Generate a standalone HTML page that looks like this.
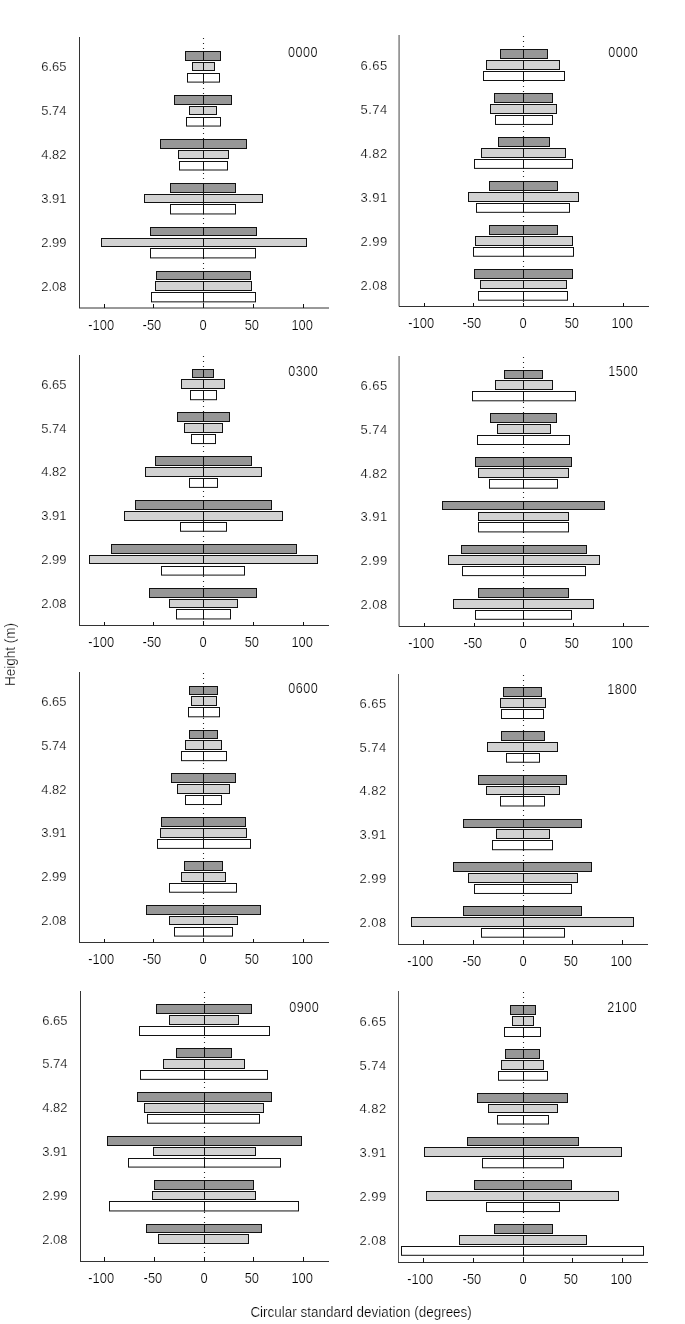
<!DOCTYPE html>
<html><head><meta charset="utf-8"><style>
html,body{margin:0;padding:0;background:#fff;}
body{width:685px;height:1324px;overflow:hidden;position:relative;}
svg{position:absolute;left:0;top:0;will-change:transform;}
.t{font-family:"Liberation Sans",sans-serif;font-size:13px;fill:#000;stroke:#fff;stroke-width:0.2px;}
.xt{font-family:"Liberation Sans",sans-serif;font-size:12.9px;fill:#000;stroke:#fff;stroke-width:0.2px;}
.pl{font-family:"Liberation Sans",sans-serif;font-size:12.6px;letter-spacing:0.5px;fill:#000;stroke:#fff;stroke-width:0.2px;}
.ttl{font-family:"Liberation Sans",sans-serif;font-size:13.4px;fill:#000;stroke:#fff;stroke-width:0.2px;}
</style></head><body>
<svg width="685" height="1324" viewBox="0 0 685 1324" shape-rendering="auto">
<line x1="203.5" y1="38" x2="203.5" y2="308.0" stroke="#222" stroke-width="1.1" stroke-dasharray="1 4"/>
<rect x="185.5" y="51.5" width="18.0" height="9.0" fill="#979797" stroke="#111"/>
<rect x="203.5" y="51.5" width="17.0" height="9.0" fill="#979797" stroke="#111"/>
<rect x="192.5" y="62.5" width="11.0" height="8.0" fill="#d2d2d2" stroke="#111"/>
<rect x="203.5" y="62.5" width="11.0" height="8.0" fill="#d2d2d2" stroke="#111"/>
<rect x="187.5" y="73.5" width="16.0" height="8.6" fill="#ffffff" stroke="#111"/>
<rect x="203.5" y="73.5" width="16.0" height="8.6" fill="#ffffff" stroke="#111"/>
<text x="66.5" y="71.1" text-anchor="end" class="t">6.65</text>
<rect x="174.5" y="95.5" width="29.0" height="9.0" fill="#979797" stroke="#111"/>
<rect x="203.5" y="95.5" width="28.0" height="9.0" fill="#979797" stroke="#111"/>
<rect x="189.5" y="106.5" width="14.0" height="8.0" fill="#d2d2d2" stroke="#111"/>
<rect x="203.5" y="106.5" width="13.0" height="8.0" fill="#d2d2d2" stroke="#111"/>
<rect x="186.5" y="117.5" width="17.0" height="8.55" fill="#ffffff" stroke="#111"/>
<rect x="203.5" y="117.5" width="17.0" height="8.55" fill="#ffffff" stroke="#111"/>
<text x="66.5" y="115.0" text-anchor="end" class="t">5.74</text>
<rect x="160.5" y="139.5" width="43.0" height="9.0" fill="#979797" stroke="#111"/>
<rect x="203.5" y="139.5" width="43.0" height="9.0" fill="#979797" stroke="#111"/>
<rect x="178.5" y="150.5" width="25.0" height="8.0" fill="#d2d2d2" stroke="#111"/>
<rect x="203.5" y="150.5" width="25.0" height="8.0" fill="#d2d2d2" stroke="#111"/>
<rect x="179.5" y="161.5" width="24.0" height="8.5" fill="#ffffff" stroke="#111"/>
<rect x="203.5" y="161.5" width="24.0" height="8.5" fill="#ffffff" stroke="#111"/>
<text x="66.5" y="159.0" text-anchor="end" class="t">4.82</text>
<rect x="170.5" y="183.5" width="33.0" height="9.0" fill="#979797" stroke="#111"/>
<rect x="203.5" y="183.5" width="32.0" height="9.0" fill="#979797" stroke="#111"/>
<rect x="144.5" y="194.5" width="59.0" height="8.0" fill="#d2d2d2" stroke="#111"/>
<rect x="203.5" y="194.5" width="59.0" height="8.0" fill="#d2d2d2" stroke="#111"/>
<rect x="170.5" y="204.5" width="33.0" height="9.45" fill="#ffffff" stroke="#111"/>
<rect x="203.5" y="204.5" width="32.0" height="9.45" fill="#ffffff" stroke="#111"/>
<text x="66.5" y="203.0" text-anchor="end" class="t">3.91</text>
<rect x="150.5" y="227.5" width="53.0" height="8.0" fill="#979797" stroke="#111"/>
<rect x="203.5" y="227.5" width="53.0" height="8.0" fill="#979797" stroke="#111"/>
<rect x="101.5" y="238.5" width="102.0" height="8.0" fill="#d2d2d2" stroke="#111"/>
<rect x="203.5" y="238.5" width="103.0" height="8.0" fill="#d2d2d2" stroke="#111"/>
<rect x="150.5" y="248.5" width="53.0" height="9.4" fill="#ffffff" stroke="#111"/>
<rect x="203.5" y="248.5" width="52.0" height="9.4" fill="#ffffff" stroke="#111"/>
<text x="66.5" y="246.9" text-anchor="end" class="t">2.99</text>
<rect x="156.5" y="271.5" width="47.0" height="8.0" fill="#979797" stroke="#111"/>
<rect x="203.5" y="271.5" width="47.0" height="8.0" fill="#979797" stroke="#111"/>
<rect x="155.5" y="281.5" width="48.0" height="9.0" fill="#d2d2d2" stroke="#111"/>
<rect x="203.5" y="281.5" width="48.0" height="9.0" fill="#d2d2d2" stroke="#111"/>
<rect x="151.5" y="292.5" width="52.0" height="9.35" fill="#ffffff" stroke="#111"/>
<rect x="203.5" y="292.5" width="52.0" height="9.35" fill="#ffffff" stroke="#111"/>
<text x="66.5" y="290.9" text-anchor="end" class="t">2.08</text>
<line x1="79.5" y1="37" x2="79.5" y2="308.0" stroke="#333" stroke-width="1"/>
<line x1="79" y1="308.0" x2="329" y2="308.0" stroke="#333" stroke-width="1"/>
<line x1="104.5" y1="304" x2="104.5" y2="308.0" stroke="#111" stroke-width="1"/>
<text transform="translate(101.20,329.5) scale(1,1.08)" text-anchor="middle" class="xt">-100</text>
<line x1="153.5" y1="304" x2="153.5" y2="308.0" stroke="#111" stroke-width="1"/>
<text transform="translate(151.90,329.5) scale(1,1.08)" text-anchor="middle" class="xt">-50</text>
<line x1="203.5" y1="304" x2="203.5" y2="308.0" stroke="#111" stroke-width="1"/>
<text transform="translate(203.00,329.5) scale(1,1.08)" text-anchor="middle" class="xt">0</text>
<line x1="253.5" y1="304" x2="253.5" y2="308.0" stroke="#111" stroke-width="1"/>
<text transform="translate(251.80,329.5) scale(1,1.08)" text-anchor="middle" class="xt">50</text>
<line x1="303.5" y1="304" x2="303.5" y2="308.0" stroke="#111" stroke-width="1"/>
<text transform="translate(302.20,329.5) scale(1,1.08)" text-anchor="middle" class="xt">100</text>
<text transform="translate(318.1,57.4) scale(1,1.1)" text-anchor="end" class="pl">0000</text>
<line x1="203.5" y1="356" x2="203.5" y2="625.5" stroke="#222" stroke-width="1.1" stroke-dasharray="1 4"/>
<rect x="192.5" y="369.5" width="11.0" height="8.0" fill="#979797" stroke="#111"/>
<rect x="203.5" y="369.5" width="10.0" height="8.0" fill="#979797" stroke="#111"/>
<rect x="181.5" y="379.5" width="22.0" height="9.0" fill="#d2d2d2" stroke="#111"/>
<rect x="203.5" y="379.5" width="21.0" height="9.0" fill="#d2d2d2" stroke="#111"/>
<rect x="190.5" y="390.5" width="13.0" height="9.2" fill="#ffffff" stroke="#111"/>
<rect x="203.5" y="390.5" width="13.0" height="9.2" fill="#ffffff" stroke="#111"/>
<text x="66.5" y="388.7" text-anchor="end" class="t">6.65</text>
<rect x="177.5" y="412.5" width="26.0" height="9.0" fill="#979797" stroke="#111"/>
<rect x="203.5" y="412.5" width="26.0" height="9.0" fill="#979797" stroke="#111"/>
<rect x="184.5" y="423.5" width="19.0" height="9.0" fill="#d2d2d2" stroke="#111"/>
<rect x="203.5" y="423.5" width="19.0" height="9.0" fill="#d2d2d2" stroke="#111"/>
<rect x="191.5" y="434.5" width="12.0" height="9.05" fill="#ffffff" stroke="#111"/>
<rect x="203.5" y="434.5" width="12.0" height="9.05" fill="#ffffff" stroke="#111"/>
<text x="66.5" y="432.6" text-anchor="end" class="t">5.74</text>
<rect x="155.5" y="456.5" width="48.0" height="9.0" fill="#979797" stroke="#111"/>
<rect x="203.5" y="456.5" width="48.0" height="9.0" fill="#979797" stroke="#111"/>
<rect x="145.5" y="467.5" width="58.0" height="9.0" fill="#d2d2d2" stroke="#111"/>
<rect x="203.5" y="467.5" width="58.0" height="9.0" fill="#d2d2d2" stroke="#111"/>
<rect x="189.5" y="478.5" width="14.0" height="8.9" fill="#ffffff" stroke="#111"/>
<rect x="203.5" y="478.5" width="14.0" height="8.9" fill="#ffffff" stroke="#111"/>
<text x="66.5" y="476.4" text-anchor="end" class="t">4.82</text>
<rect x="135.5" y="500.5" width="68.0" height="9.0" fill="#979797" stroke="#111"/>
<rect x="203.5" y="500.5" width="68.0" height="9.0" fill="#979797" stroke="#111"/>
<rect x="124.5" y="511.5" width="79.0" height="9.0" fill="#d2d2d2" stroke="#111"/>
<rect x="203.5" y="511.5" width="79.0" height="9.0" fill="#d2d2d2" stroke="#111"/>
<rect x="180.5" y="522.5" width="23.0" height="8.75" fill="#ffffff" stroke="#111"/>
<rect x="203.5" y="522.5" width="23.0" height="8.75" fill="#ffffff" stroke="#111"/>
<text x="66.5" y="520.2" text-anchor="end" class="t">3.91</text>
<rect x="111.5" y="544.5" width="92.0" height="9.0" fill="#979797" stroke="#111"/>
<rect x="203.5" y="544.5" width="93.0" height="9.0" fill="#979797" stroke="#111"/>
<rect x="89.5" y="555.5" width="114.0" height="8.0" fill="#d2d2d2" stroke="#111"/>
<rect x="203.5" y="555.5" width="114.0" height="8.0" fill="#d2d2d2" stroke="#111"/>
<rect x="161.5" y="566.5" width="42.0" height="8.6" fill="#ffffff" stroke="#111"/>
<rect x="203.5" y="566.5" width="41.0" height="8.6" fill="#ffffff" stroke="#111"/>
<text x="66.5" y="564.1" text-anchor="end" class="t">2.99</text>
<rect x="149.5" y="588.5" width="54.0" height="9.0" fill="#979797" stroke="#111"/>
<rect x="203.5" y="588.5" width="53.0" height="9.0" fill="#979797" stroke="#111"/>
<rect x="169.5" y="599.5" width="34.0" height="8.0" fill="#d2d2d2" stroke="#111"/>
<rect x="203.5" y="599.5" width="34.0" height="8.0" fill="#d2d2d2" stroke="#111"/>
<rect x="176.5" y="609.5" width="27.0" height="9.45" fill="#ffffff" stroke="#111"/>
<rect x="203.5" y="609.5" width="27.0" height="9.45" fill="#ffffff" stroke="#111"/>
<text x="66.5" y="608.0" text-anchor="end" class="t">2.08</text>
<line x1="79.5" y1="355" x2="79.5" y2="625.5" stroke="#333" stroke-width="1"/>
<line x1="79" y1="625.5" x2="329" y2="625.5" stroke="#333" stroke-width="1"/>
<line x1="104.5" y1="622" x2="104.5" y2="625.5" stroke="#111" stroke-width="1"/>
<text transform="translate(101.20,647.0) scale(1,1.08)" text-anchor="middle" class="xt">-100</text>
<line x1="153.5" y1="622" x2="153.5" y2="625.5" stroke="#111" stroke-width="1"/>
<text transform="translate(151.90,647.0) scale(1,1.08)" text-anchor="middle" class="xt">-50</text>
<line x1="203.5" y1="622" x2="203.5" y2="625.5" stroke="#111" stroke-width="1"/>
<text transform="translate(203.00,647.0) scale(1,1.08)" text-anchor="middle" class="xt">0</text>
<line x1="253.5" y1="622" x2="253.5" y2="625.5" stroke="#111" stroke-width="1"/>
<text transform="translate(251.80,647.0) scale(1,1.08)" text-anchor="middle" class="xt">50</text>
<line x1="303.5" y1="622" x2="303.5" y2="625.5" stroke="#111" stroke-width="1"/>
<text transform="translate(302.20,647.0) scale(1,1.08)" text-anchor="middle" class="xt">100</text>
<text transform="translate(318.2,375.8) scale(1,1.1)" text-anchor="end" class="pl">0300</text>
<line x1="203.5" y1="673" x2="203.5" y2="942.5" stroke="#222" stroke-width="1.1" stroke-dasharray="1 4"/>
<rect x="189.5" y="686.5" width="14.0" height="8.0" fill="#979797" stroke="#111"/>
<rect x="203.5" y="686.5" width="14.0" height="8.0" fill="#979797" stroke="#111"/>
<rect x="191.5" y="696.5" width="12.0" height="9.0" fill="#d2d2d2" stroke="#111"/>
<rect x="203.5" y="696.5" width="13.0" height="9.0" fill="#d2d2d2" stroke="#111"/>
<rect x="188.5" y="707.5" width="15.0" height="9.3" fill="#ffffff" stroke="#111"/>
<rect x="203.5" y="707.5" width="16.0" height="9.3" fill="#ffffff" stroke="#111"/>
<text x="66.5" y="705.8" text-anchor="end" class="t">6.65</text>
<rect x="189.5" y="730.5" width="14.0" height="8.0" fill="#979797" stroke="#111"/>
<rect x="203.5" y="730.5" width="14.0" height="8.0" fill="#979797" stroke="#111"/>
<rect x="185.5" y="740.5" width="18.0" height="9.0" fill="#d2d2d2" stroke="#111"/>
<rect x="203.5" y="740.5" width="18.0" height="9.0" fill="#d2d2d2" stroke="#111"/>
<rect x="181.5" y="751.5" width="22.0" height="9.16" fill="#ffffff" stroke="#111"/>
<rect x="203.5" y="751.5" width="23.0" height="9.16" fill="#ffffff" stroke="#111"/>
<text x="66.5" y="749.7" text-anchor="end" class="t">5.74</text>
<rect x="171.5" y="773.5" width="32.0" height="9.0" fill="#979797" stroke="#111"/>
<rect x="203.5" y="773.5" width="32.0" height="9.0" fill="#979797" stroke="#111"/>
<rect x="177.5" y="784.5" width="26.0" height="9.0" fill="#d2d2d2" stroke="#111"/>
<rect x="203.5" y="784.5" width="26.0" height="9.0" fill="#d2d2d2" stroke="#111"/>
<rect x="185.5" y="795.5" width="18.0" height="9.02" fill="#ffffff" stroke="#111"/>
<rect x="203.5" y="795.5" width="18.0" height="9.02" fill="#ffffff" stroke="#111"/>
<text x="66.5" y="793.5" text-anchor="end" class="t">4.82</text>
<rect x="161.5" y="817.5" width="42.0" height="9.0" fill="#979797" stroke="#111"/>
<rect x="203.5" y="817.5" width="42.0" height="9.0" fill="#979797" stroke="#111"/>
<rect x="160.5" y="828.5" width="43.0" height="9.0" fill="#d2d2d2" stroke="#111"/>
<rect x="203.5" y="828.5" width="43.0" height="9.0" fill="#d2d2d2" stroke="#111"/>
<rect x="157.5" y="839.5" width="46.0" height="8.88" fill="#ffffff" stroke="#111"/>
<rect x="203.5" y="839.5" width="47.0" height="8.88" fill="#ffffff" stroke="#111"/>
<text x="66.5" y="837.4" text-anchor="end" class="t">3.91</text>
<rect x="184.5" y="861.5" width="19.0" height="9.0" fill="#979797" stroke="#111"/>
<rect x="203.5" y="861.5" width="19.0" height="9.0" fill="#979797" stroke="#111"/>
<rect x="181.5" y="872.5" width="22.0" height="9.0" fill="#d2d2d2" stroke="#111"/>
<rect x="203.5" y="872.5" width="22.0" height="9.0" fill="#d2d2d2" stroke="#111"/>
<rect x="169.5" y="883.5" width="34.0" height="8.74" fill="#ffffff" stroke="#111"/>
<rect x="203.5" y="883.5" width="33.0" height="8.74" fill="#ffffff" stroke="#111"/>
<text x="66.5" y="881.2" text-anchor="end" class="t">2.99</text>
<rect x="146.5" y="905.5" width="57.0" height="9.0" fill="#979797" stroke="#111"/>
<rect x="203.5" y="905.5" width="57.0" height="9.0" fill="#979797" stroke="#111"/>
<rect x="169.5" y="916.5" width="34.0" height="8.0" fill="#d2d2d2" stroke="#111"/>
<rect x="203.5" y="916.5" width="34.0" height="8.0" fill="#d2d2d2" stroke="#111"/>
<rect x="174.5" y="927.5" width="29.0" height="8.6" fill="#ffffff" stroke="#111"/>
<rect x="203.5" y="927.5" width="29.0" height="8.6" fill="#ffffff" stroke="#111"/>
<text x="66.5" y="925.1" text-anchor="end" class="t">2.08</text>
<line x1="79.5" y1="672" x2="79.5" y2="942.5" stroke="#333" stroke-width="1"/>
<line x1="79" y1="942.5" x2="329" y2="942.5" stroke="#333" stroke-width="1"/>
<line x1="104.5" y1="939" x2="104.5" y2="942.5" stroke="#111" stroke-width="1"/>
<text transform="translate(101.20,964.0) scale(1,1.08)" text-anchor="middle" class="xt">-100</text>
<line x1="153.5" y1="939" x2="153.5" y2="942.5" stroke="#111" stroke-width="1"/>
<text transform="translate(151.90,964.0) scale(1,1.08)" text-anchor="middle" class="xt">-50</text>
<line x1="203.5" y1="939" x2="203.5" y2="942.5" stroke="#111" stroke-width="1"/>
<text transform="translate(203.00,964.0) scale(1,1.08)" text-anchor="middle" class="xt">0</text>
<line x1="253.5" y1="939" x2="253.5" y2="942.5" stroke="#111" stroke-width="1"/>
<text transform="translate(251.80,964.0) scale(1,1.08)" text-anchor="middle" class="xt">50</text>
<line x1="303.5" y1="939" x2="303.5" y2="942.5" stroke="#111" stroke-width="1"/>
<text transform="translate(302.20,964.0) scale(1,1.08)" text-anchor="middle" class="xt">100</text>
<text transform="translate(318.2,692.7) scale(1,1.1)" text-anchor="end" class="pl">0600</text>
<line x1="204.5" y1="992" x2="204.5" y2="1261.5" stroke="#222" stroke-width="1.1" stroke-dasharray="1 4"/>
<rect x="156.5" y="1004.5" width="48.0" height="9.0" fill="#979797" stroke="#111"/>
<rect x="204.5" y="1004.5" width="47.0" height="9.0" fill="#979797" stroke="#111"/>
<rect x="169.5" y="1015.5" width="35.0" height="9.0" fill="#d2d2d2" stroke="#111"/>
<rect x="204.5" y="1015.5" width="34.0" height="9.0" fill="#d2d2d2" stroke="#111"/>
<rect x="139.5" y="1026.5" width="65.0" height="9.0" fill="#ffffff" stroke="#111"/>
<rect x="204.5" y="1026.5" width="65.0" height="9.0" fill="#ffffff" stroke="#111"/>
<text x="67.5" y="1024.5" text-anchor="end" class="t">6.65</text>
<rect x="176.5" y="1048.5" width="28.0" height="9.0" fill="#979797" stroke="#111"/>
<rect x="204.5" y="1048.5" width="27.0" height="9.0" fill="#979797" stroke="#111"/>
<rect x="163.5" y="1059.5" width="41.0" height="9.0" fill="#d2d2d2" stroke="#111"/>
<rect x="204.5" y="1059.5" width="40.0" height="9.0" fill="#d2d2d2" stroke="#111"/>
<rect x="140.5" y="1070.5" width="64.0" height="8.86" fill="#ffffff" stroke="#111"/>
<rect x="204.5" y="1070.5" width="63.0" height="8.86" fill="#ffffff" stroke="#111"/>
<text x="67.5" y="1068.4" text-anchor="end" class="t">5.74</text>
<rect x="137.5" y="1092.5" width="67.0" height="9.0" fill="#979797" stroke="#111"/>
<rect x="204.5" y="1092.5" width="67.0" height="9.0" fill="#979797" stroke="#111"/>
<rect x="144.5" y="1103.5" width="60.0" height="9.0" fill="#d2d2d2" stroke="#111"/>
<rect x="204.5" y="1103.5" width="59.0" height="9.0" fill="#d2d2d2" stroke="#111"/>
<rect x="147.5" y="1114.5" width="57.0" height="8.72" fill="#ffffff" stroke="#111"/>
<rect x="204.5" y="1114.5" width="55.0" height="8.72" fill="#ffffff" stroke="#111"/>
<text x="67.5" y="1112.2" text-anchor="end" class="t">4.82</text>
<rect x="107.5" y="1136.5" width="97.0" height="9.0" fill="#979797" stroke="#111"/>
<rect x="204.5" y="1136.5" width="97.0" height="9.0" fill="#979797" stroke="#111"/>
<rect x="153.5" y="1147.5" width="51.0" height="8.0" fill="#d2d2d2" stroke="#111"/>
<rect x="204.5" y="1147.5" width="51.0" height="8.0" fill="#d2d2d2" stroke="#111"/>
<rect x="128.5" y="1158.5" width="76.0" height="8.58" fill="#ffffff" stroke="#111"/>
<rect x="204.5" y="1158.5" width="76.0" height="8.58" fill="#ffffff" stroke="#111"/>
<text x="67.5" y="1156.1" text-anchor="end" class="t">3.91</text>
<rect x="154.5" y="1180.5" width="50.0" height="9.0" fill="#979797" stroke="#111"/>
<rect x="204.5" y="1180.5" width="49.0" height="9.0" fill="#979797" stroke="#111"/>
<rect x="152.5" y="1191.5" width="52.0" height="8.0" fill="#d2d2d2" stroke="#111"/>
<rect x="204.5" y="1191.5" width="51.0" height="8.0" fill="#d2d2d2" stroke="#111"/>
<rect x="109.5" y="1201.5" width="95.0" height="9.44" fill="#ffffff" stroke="#111"/>
<rect x="204.5" y="1201.5" width="94.0" height="9.44" fill="#ffffff" stroke="#111"/>
<text x="67.5" y="1199.9" text-anchor="end" class="t">2.99</text>
<rect x="146.5" y="1224.5" width="58.0" height="8.0" fill="#979797" stroke="#111"/>
<rect x="204.5" y="1224.5" width="57.0" height="8.0" fill="#979797" stroke="#111"/>
<rect x="158.5" y="1234.5" width="46.0" height="9.0" fill="#d2d2d2" stroke="#111"/>
<rect x="204.5" y="1234.5" width="44.0" height="9.0" fill="#d2d2d2" stroke="#111"/>
<text x="67.5" y="1243.8" text-anchor="end" class="t">2.08</text>
<line x1="80.5" y1="991" x2="80.5" y2="1261.5" stroke="#333" stroke-width="1"/>
<line x1="80" y1="1261.5" x2="329" y2="1261.5" stroke="#333" stroke-width="1"/>
<line x1="104.5" y1="1257" x2="104.5" y2="1261.5" stroke="#111" stroke-width="1"/>
<text transform="translate(101.20,1283.0) scale(1,1.08)" text-anchor="middle" class="xt">-100</text>
<line x1="154.5" y1="1257" x2="154.5" y2="1261.5" stroke="#111" stroke-width="1"/>
<text transform="translate(152.90,1283.0) scale(1,1.08)" text-anchor="middle" class="xt">-50</text>
<line x1="204.5" y1="1257" x2="204.5" y2="1261.5" stroke="#111" stroke-width="1"/>
<text transform="translate(204.00,1283.0) scale(1,1.08)" text-anchor="middle" class="xt">0</text>
<line x1="253.5" y1="1257" x2="253.5" y2="1261.5" stroke="#111" stroke-width="1"/>
<text transform="translate(251.80,1283.0) scale(1,1.08)" text-anchor="middle" class="xt">50</text>
<line x1="303.5" y1="1257" x2="303.5" y2="1261.5" stroke="#111" stroke-width="1"/>
<text transform="translate(302.20,1283.0) scale(1,1.08)" text-anchor="middle" class="xt">100</text>
<text transform="translate(319.2,1011.7) scale(1,1.1)" text-anchor="end" class="pl">0900</text>
<line x1="523.5" y1="36" x2="523.5" y2="306.5" stroke="#222" stroke-width="1.1" stroke-dasharray="1 4"/>
<rect x="500.5" y="49.5" width="23.0" height="9.0" fill="#979797" stroke="#111"/>
<rect x="523.5" y="49.5" width="24.0" height="9.0" fill="#979797" stroke="#111"/>
<rect x="486.5" y="60.5" width="37.0" height="9.0" fill="#d2d2d2" stroke="#111"/>
<rect x="523.5" y="60.5" width="36.0" height="9.0" fill="#d2d2d2" stroke="#111"/>
<rect x="483.5" y="71.5" width="40.0" height="9.0" fill="#ffffff" stroke="#111"/>
<rect x="523.5" y="71.5" width="41.0" height="9.0" fill="#ffffff" stroke="#111"/>
<text x="387.8" y="69.8" text-anchor="end" class="t" letter-spacing="0.5">6.65</text>
<rect x="494.5" y="93.5" width="29.0" height="9.0" fill="#979797" stroke="#111"/>
<rect x="523.5" y="93.5" width="29.0" height="9.0" fill="#979797" stroke="#111"/>
<rect x="490.5" y="104.5" width="33.0" height="9.0" fill="#d2d2d2" stroke="#111"/>
<rect x="523.5" y="104.5" width="33.0" height="9.0" fill="#d2d2d2" stroke="#111"/>
<rect x="495.5" y="115.5" width="28.0" height="8.94" fill="#ffffff" stroke="#111"/>
<rect x="523.5" y="115.5" width="29.0" height="8.94" fill="#ffffff" stroke="#111"/>
<text x="387.8" y="113.7" text-anchor="end" class="t" letter-spacing="0.5">5.74</text>
<rect x="498.5" y="137.5" width="25.0" height="9.0" fill="#979797" stroke="#111"/>
<rect x="523.5" y="137.5" width="26.0" height="9.0" fill="#979797" stroke="#111"/>
<rect x="481.5" y="148.5" width="42.0" height="9.0" fill="#d2d2d2" stroke="#111"/>
<rect x="523.5" y="148.5" width="42.0" height="9.0" fill="#d2d2d2" stroke="#111"/>
<rect x="474.5" y="159.5" width="49.0" height="8.88" fill="#ffffff" stroke="#111"/>
<rect x="523.5" y="159.5" width="49.0" height="8.88" fill="#ffffff" stroke="#111"/>
<text x="387.8" y="157.7" text-anchor="end" class="t" letter-spacing="0.5">4.82</text>
<rect x="489.5" y="181.5" width="34.0" height="9.0" fill="#979797" stroke="#111"/>
<rect x="523.5" y="181.5" width="34.0" height="9.0" fill="#979797" stroke="#111"/>
<rect x="468.5" y="192.5" width="55.0" height="9.0" fill="#d2d2d2" stroke="#111"/>
<rect x="523.5" y="192.5" width="55.0" height="9.0" fill="#d2d2d2" stroke="#111"/>
<rect x="476.5" y="203.5" width="47.0" height="8.82" fill="#ffffff" stroke="#111"/>
<rect x="523.5" y="203.5" width="46.0" height="8.82" fill="#ffffff" stroke="#111"/>
<text x="387.8" y="201.6" text-anchor="end" class="t" letter-spacing="0.5">3.91</text>
<rect x="489.5" y="225.5" width="34.0" height="9.0" fill="#979797" stroke="#111"/>
<rect x="523.5" y="225.5" width="34.0" height="9.0" fill="#979797" stroke="#111"/>
<rect x="475.5" y="236.5" width="48.0" height="9.0" fill="#d2d2d2" stroke="#111"/>
<rect x="523.5" y="236.5" width="49.0" height="9.0" fill="#d2d2d2" stroke="#111"/>
<rect x="473.5" y="247.5" width="50.0" height="8.76" fill="#ffffff" stroke="#111"/>
<rect x="523.5" y="247.5" width="50.0" height="8.76" fill="#ffffff" stroke="#111"/>
<text x="387.8" y="245.6" text-anchor="end" class="t" letter-spacing="0.5">2.99</text>
<rect x="474.5" y="269.5" width="49.0" height="9.0" fill="#979797" stroke="#111"/>
<rect x="523.5" y="269.5" width="49.0" height="9.0" fill="#979797" stroke="#111"/>
<rect x="480.5" y="280.5" width="43.0" height="8.0" fill="#d2d2d2" stroke="#111"/>
<rect x="523.5" y="280.5" width="43.0" height="8.0" fill="#d2d2d2" stroke="#111"/>
<rect x="478.5" y="291.5" width="45.0" height="8.7" fill="#ffffff" stroke="#111"/>
<rect x="523.5" y="291.5" width="44.0" height="8.7" fill="#ffffff" stroke="#111"/>
<text x="387.8" y="289.5" text-anchor="end" class="t" letter-spacing="0.5">2.08</text>
<line x1="399.1" y1="35" x2="399.1" y2="306.5" stroke="#8a8a8a" stroke-width="1.6"/>
<line x1="399" y1="306.5" x2="649" y2="306.5" stroke="#333" stroke-width="1"/>
<line x1="424.5" y1="303" x2="424.5" y2="306.5" stroke="#111" stroke-width="1"/>
<text transform="translate(421.20,328.0) scale(1,1.08)" text-anchor="middle" class="xt">-100</text>
<line x1="473.5" y1="303" x2="473.5" y2="306.5" stroke="#111" stroke-width="1"/>
<text transform="translate(471.90,328.0) scale(1,1.08)" text-anchor="middle" class="xt">-50</text>
<line x1="523.5" y1="303" x2="523.5" y2="306.5" stroke="#111" stroke-width="1"/>
<text transform="translate(523.00,328.0) scale(1,1.08)" text-anchor="middle" class="xt">0</text>
<line x1="573.5" y1="303" x2="573.5" y2="306.5" stroke="#111" stroke-width="1"/>
<text transform="translate(571.80,328.0) scale(1,1.08)" text-anchor="middle" class="xt">50</text>
<line x1="623.5" y1="303" x2="623.5" y2="306.5" stroke="#111" stroke-width="1"/>
<text transform="translate(622.20,328.0) scale(1,1.08)" text-anchor="middle" class="xt">100</text>
<text transform="translate(638.2,56.7) scale(1,1.1)" text-anchor="end" class="pl">0000</text>
<line x1="523.5" y1="357" x2="523.5" y2="626.5" stroke="#222" stroke-width="1.1" stroke-dasharray="1 4"/>
<rect x="504.5" y="370.5" width="19.0" height="8.0" fill="#979797" stroke="#111"/>
<rect x="523.5" y="370.5" width="19.0" height="8.0" fill="#979797" stroke="#111"/>
<rect x="495.5" y="380.5" width="28.0" height="9.0" fill="#d2d2d2" stroke="#111"/>
<rect x="523.5" y="380.5" width="29.0" height="9.0" fill="#d2d2d2" stroke="#111"/>
<rect x="472.5" y="391.5" width="51.0" height="9.3" fill="#ffffff" stroke="#111"/>
<rect x="523.5" y="391.5" width="52.0" height="9.3" fill="#ffffff" stroke="#111"/>
<text x="387.8" y="390.1" text-anchor="end" class="t" letter-spacing="0.5">6.65</text>
<rect x="490.5" y="413.5" width="33.0" height="9.0" fill="#979797" stroke="#111"/>
<rect x="523.5" y="413.5" width="33.0" height="9.0" fill="#979797" stroke="#111"/>
<rect x="497.5" y="424.5" width="26.0" height="9.0" fill="#d2d2d2" stroke="#111"/>
<rect x="523.5" y="424.5" width="27.0" height="9.0" fill="#d2d2d2" stroke="#111"/>
<rect x="477.5" y="435.5" width="46.0" height="9.0" fill="#ffffff" stroke="#111"/>
<rect x="523.5" y="435.5" width="46.0" height="9.0" fill="#ffffff" stroke="#111"/>
<text x="387.8" y="433.8" text-anchor="end" class="t" letter-spacing="0.5">5.74</text>
<rect x="475.5" y="457.5" width="48.0" height="9.0" fill="#979797" stroke="#111"/>
<rect x="523.5" y="457.5" width="48.0" height="9.0" fill="#979797" stroke="#111"/>
<rect x="478.5" y="468.5" width="45.0" height="9.0" fill="#d2d2d2" stroke="#111"/>
<rect x="523.5" y="468.5" width="45.0" height="9.0" fill="#d2d2d2" stroke="#111"/>
<rect x="489.5" y="479.5" width="34.0" height="8.7" fill="#ffffff" stroke="#111"/>
<rect x="523.5" y="479.5" width="34.0" height="8.7" fill="#ffffff" stroke="#111"/>
<text x="387.8" y="477.5" text-anchor="end" class="t" letter-spacing="0.5">4.82</text>
<rect x="442.5" y="501.5" width="81.0" height="8.0" fill="#979797" stroke="#111"/>
<rect x="523.5" y="501.5" width="81.0" height="8.0" fill="#979797" stroke="#111"/>
<rect x="478.5" y="512.5" width="45.0" height="8.0" fill="#d2d2d2" stroke="#111"/>
<rect x="523.5" y="512.5" width="45.0" height="8.0" fill="#d2d2d2" stroke="#111"/>
<rect x="478.5" y="522.5" width="45.0" height="9.4" fill="#ffffff" stroke="#111"/>
<rect x="523.5" y="522.5" width="45.0" height="9.4" fill="#ffffff" stroke="#111"/>
<text x="387.8" y="521.2" text-anchor="end" class="t" letter-spacing="0.5">3.91</text>
<rect x="461.5" y="545.5" width="62.0" height="8.0" fill="#979797" stroke="#111"/>
<rect x="523.5" y="545.5" width="63.0" height="8.0" fill="#979797" stroke="#111"/>
<rect x="448.5" y="555.5" width="75.0" height="9.0" fill="#d2d2d2" stroke="#111"/>
<rect x="523.5" y="555.5" width="76.0" height="9.0" fill="#d2d2d2" stroke="#111"/>
<rect x="462.5" y="566.5" width="61.0" height="9.1" fill="#ffffff" stroke="#111"/>
<rect x="523.5" y="566.5" width="62.0" height="9.1" fill="#ffffff" stroke="#111"/>
<text x="387.8" y="564.9" text-anchor="end" class="t" letter-spacing="0.5">2.99</text>
<rect x="478.5" y="588.5" width="45.0" height="9.0" fill="#979797" stroke="#111"/>
<rect x="523.5" y="588.5" width="45.0" height="9.0" fill="#979797" stroke="#111"/>
<rect x="453.5" y="599.5" width="70.0" height="9.0" fill="#d2d2d2" stroke="#111"/>
<rect x="523.5" y="599.5" width="70.0" height="9.0" fill="#d2d2d2" stroke="#111"/>
<rect x="475.5" y="610.5" width="48.0" height="8.8" fill="#ffffff" stroke="#111"/>
<rect x="523.5" y="610.5" width="48.0" height="8.8" fill="#ffffff" stroke="#111"/>
<text x="387.8" y="608.6" text-anchor="end" class="t" letter-spacing="0.5">2.08</text>
<line x1="399.1" y1="356" x2="399.1" y2="626.5" stroke="#8a8a8a" stroke-width="1.6"/>
<line x1="399" y1="626.5" x2="649" y2="626.5" stroke="#333" stroke-width="1"/>
<line x1="424.5" y1="623" x2="424.5" y2="626.5" stroke="#111" stroke-width="1"/>
<text transform="translate(421.20,648.0) scale(1,1.08)" text-anchor="middle" class="xt">-100</text>
<line x1="474.5" y1="623" x2="474.5" y2="626.5" stroke="#111" stroke-width="1"/>
<text transform="translate(472.90,648.0) scale(1,1.08)" text-anchor="middle" class="xt">-50</text>
<line x1="523.5" y1="623" x2="523.5" y2="626.5" stroke="#111" stroke-width="1"/>
<text transform="translate(523.00,648.0) scale(1,1.08)" text-anchor="middle" class="xt">0</text>
<line x1="573.5" y1="623" x2="573.5" y2="626.5" stroke="#111" stroke-width="1"/>
<text transform="translate(571.80,648.0) scale(1,1.08)" text-anchor="middle" class="xt">50</text>
<line x1="623.5" y1="623" x2="623.5" y2="626.5" stroke="#111" stroke-width="1"/>
<text transform="translate(622.20,648.0) scale(1,1.08)" text-anchor="middle" class="xt">100</text>
<text transform="translate(638.2,375.8) scale(1,1.1)" text-anchor="end" class="pl">1500</text>
<line x1="523.5" y1="675" x2="523.5" y2="944.5" stroke="#222" stroke-width="1.1" stroke-dasharray="1 4"/>
<rect x="503.5" y="687.5" width="20.0" height="9.0" fill="#979797" stroke="#111"/>
<rect x="523.5" y="687.5" width="18.0" height="9.0" fill="#979797" stroke="#111"/>
<rect x="500.5" y="698.5" width="23.0" height="9.0" fill="#d2d2d2" stroke="#111"/>
<rect x="523.5" y="698.5" width="22.0" height="9.0" fill="#d2d2d2" stroke="#111"/>
<rect x="501.5" y="709.5" width="22.0" height="9.0" fill="#ffffff" stroke="#111"/>
<rect x="523.5" y="709.5" width="20.0" height="9.0" fill="#ffffff" stroke="#111"/>
<text x="386.8" y="707.8" text-anchor="end" class="t" letter-spacing="0.5">6.65</text>
<rect x="501.5" y="731.5" width="22.0" height="9.0" fill="#979797" stroke="#111"/>
<rect x="523.5" y="731.5" width="21.0" height="9.0" fill="#979797" stroke="#111"/>
<rect x="487.5" y="742.5" width="36.0" height="9.0" fill="#d2d2d2" stroke="#111"/>
<rect x="523.5" y="742.5" width="34.0" height="9.0" fill="#d2d2d2" stroke="#111"/>
<rect x="506.5" y="753.5" width="17.0" height="8.74" fill="#ffffff" stroke="#111"/>
<rect x="523.5" y="753.5" width="16.0" height="8.74" fill="#ffffff" stroke="#111"/>
<text x="386.8" y="751.5" text-anchor="end" class="t" letter-spacing="0.5">5.74</text>
<rect x="478.5" y="775.5" width="45.0" height="9.0" fill="#979797" stroke="#111"/>
<rect x="523.5" y="775.5" width="43.0" height="9.0" fill="#979797" stroke="#111"/>
<rect x="486.5" y="786.5" width="37.0" height="8.0" fill="#d2d2d2" stroke="#111"/>
<rect x="523.5" y="786.5" width="36.0" height="8.0" fill="#d2d2d2" stroke="#111"/>
<rect x="500.5" y="796.5" width="23.0" height="9.48" fill="#ffffff" stroke="#111"/>
<rect x="523.5" y="796.5" width="21.0" height="9.48" fill="#ffffff" stroke="#111"/>
<text x="386.8" y="795.3" text-anchor="end" class="t" letter-spacing="0.5">4.82</text>
<rect x="463.5" y="819.5" width="60.0" height="8.0" fill="#979797" stroke="#111"/>
<rect x="523.5" y="819.5" width="58.0" height="8.0" fill="#979797" stroke="#111"/>
<rect x="496.5" y="829.5" width="27.0" height="9.0" fill="#d2d2d2" stroke="#111"/>
<rect x="523.5" y="829.5" width="26.0" height="9.0" fill="#d2d2d2" stroke="#111"/>
<rect x="492.5" y="840.5" width="31.0" height="9.22" fill="#ffffff" stroke="#111"/>
<rect x="523.5" y="840.5" width="29.0" height="9.22" fill="#ffffff" stroke="#111"/>
<text x="386.8" y="839.0" text-anchor="end" class="t" letter-spacing="0.5">3.91</text>
<rect x="453.5" y="862.5" width="70.0" height="9.0" fill="#979797" stroke="#111"/>
<rect x="523.5" y="862.5" width="68.0" height="9.0" fill="#979797" stroke="#111"/>
<rect x="468.5" y="873.5" width="55.0" height="9.0" fill="#d2d2d2" stroke="#111"/>
<rect x="523.5" y="873.5" width="54.0" height="9.0" fill="#d2d2d2" stroke="#111"/>
<rect x="474.5" y="884.5" width="49.0" height="8.96" fill="#ffffff" stroke="#111"/>
<rect x="523.5" y="884.5" width="48.0" height="8.96" fill="#ffffff" stroke="#111"/>
<text x="386.8" y="882.8" text-anchor="end" class="t" letter-spacing="0.5">2.99</text>
<rect x="463.5" y="906.5" width="60.0" height="9.0" fill="#979797" stroke="#111"/>
<rect x="523.5" y="906.5" width="58.0" height="9.0" fill="#979797" stroke="#111"/>
<rect x="411.5" y="917.5" width="112.0" height="9.0" fill="#d2d2d2" stroke="#111"/>
<rect x="523.5" y="917.5" width="110.0" height="9.0" fill="#d2d2d2" stroke="#111"/>
<rect x="481.5" y="928.5" width="42.0" height="8.7" fill="#ffffff" stroke="#111"/>
<rect x="523.5" y="928.5" width="41.0" height="8.7" fill="#ffffff" stroke="#111"/>
<text x="386.8" y="926.5" text-anchor="end" class="t" letter-spacing="0.5">2.08</text>
<line x1="398.5" y1="674" x2="398.5" y2="944.5" stroke="#555" stroke-width="1"/>
<line x1="398" y1="944.5" x2="648" y2="944.5" stroke="#333" stroke-width="1"/>
<line x1="423.5" y1="940" x2="423.5" y2="944.5" stroke="#111" stroke-width="1"/>
<text transform="translate(420.20,966.0) scale(1,1.08)" text-anchor="middle" class="xt">-100</text>
<line x1="473.5" y1="940" x2="473.5" y2="944.5" stroke="#111" stroke-width="1"/>
<text transform="translate(471.90,966.0) scale(1,1.08)" text-anchor="middle" class="xt">-50</text>
<line x1="523.5" y1="940" x2="523.5" y2="944.5" stroke="#111" stroke-width="1"/>
<text transform="translate(523.00,966.0) scale(1,1.08)" text-anchor="middle" class="xt">0</text>
<line x1="572.5" y1="940" x2="572.5" y2="944.5" stroke="#111" stroke-width="1"/>
<text transform="translate(570.80,966.0) scale(1,1.08)" text-anchor="middle" class="xt">50</text>
<line x1="622.5" y1="940" x2="622.5" y2="944.5" stroke="#111" stroke-width="1"/>
<text transform="translate(621.20,966.0) scale(1,1.08)" text-anchor="middle" class="xt">100</text>
<text transform="translate(637.2,693.8) scale(1,1.1)" text-anchor="end" class="pl">1800</text>
<line x1="523.5" y1="992" x2="523.5" y2="1262.5" stroke="#222" stroke-width="1.1" stroke-dasharray="1 4"/>
<rect x="510.5" y="1005.5" width="13.0" height="9.0" fill="#979797" stroke="#111"/>
<rect x="523.5" y="1005.5" width="12.0" height="9.0" fill="#979797" stroke="#111"/>
<rect x="512.5" y="1016.5" width="11.0" height="9.0" fill="#d2d2d2" stroke="#111"/>
<rect x="523.5" y="1016.5" width="10.0" height="9.0" fill="#d2d2d2" stroke="#111"/>
<rect x="504.5" y="1027.5" width="19.0" height="9.0" fill="#ffffff" stroke="#111"/>
<rect x="523.5" y="1027.5" width="17.0" height="9.0" fill="#ffffff" stroke="#111"/>
<text x="386.8" y="1025.8" text-anchor="end" class="t" letter-spacing="0.5">6.65</text>
<rect x="505.5" y="1049.5" width="18.0" height="9.0" fill="#979797" stroke="#111"/>
<rect x="523.5" y="1049.5" width="16.0" height="9.0" fill="#979797" stroke="#111"/>
<rect x="501.5" y="1060.5" width="22.0" height="9.0" fill="#d2d2d2" stroke="#111"/>
<rect x="523.5" y="1060.5" width="20.0" height="9.0" fill="#d2d2d2" stroke="#111"/>
<rect x="498.5" y="1071.5" width="25.0" height="8.76" fill="#ffffff" stroke="#111"/>
<rect x="523.5" y="1071.5" width="24.0" height="8.76" fill="#ffffff" stroke="#111"/>
<text x="386.8" y="1069.6" text-anchor="end" class="t" letter-spacing="0.5">5.74</text>
<rect x="477.5" y="1093.5" width="46.0" height="9.0" fill="#979797" stroke="#111"/>
<rect x="523.5" y="1093.5" width="44.0" height="9.0" fill="#979797" stroke="#111"/>
<rect x="488.5" y="1104.5" width="35.0" height="8.0" fill="#d2d2d2" stroke="#111"/>
<rect x="523.5" y="1104.5" width="34.0" height="8.0" fill="#d2d2d2" stroke="#111"/>
<rect x="497.5" y="1115.5" width="26.0" height="8.52" fill="#ffffff" stroke="#111"/>
<rect x="523.5" y="1115.5" width="25.0" height="8.52" fill="#ffffff" stroke="#111"/>
<text x="386.8" y="1113.3" text-anchor="end" class="t" letter-spacing="0.5">4.82</text>
<rect x="467.5" y="1137.5" width="56.0" height="8.0" fill="#979797" stroke="#111"/>
<rect x="523.5" y="1137.5" width="55.0" height="8.0" fill="#979797" stroke="#111"/>
<rect x="424.5" y="1147.5" width="99.0" height="9.0" fill="#d2d2d2" stroke="#111"/>
<rect x="523.5" y="1147.5" width="98.0" height="9.0" fill="#d2d2d2" stroke="#111"/>
<rect x="482.5" y="1158.5" width="41.0" height="9.28" fill="#ffffff" stroke="#111"/>
<rect x="523.5" y="1158.5" width="40.0" height="9.28" fill="#ffffff" stroke="#111"/>
<text x="386.8" y="1157.1" text-anchor="end" class="t" letter-spacing="0.5">3.91</text>
<rect x="474.5" y="1180.5" width="49.0" height="9.0" fill="#979797" stroke="#111"/>
<rect x="523.5" y="1180.5" width="48.0" height="9.0" fill="#979797" stroke="#111"/>
<rect x="426.5" y="1191.5" width="97.0" height="9.0" fill="#d2d2d2" stroke="#111"/>
<rect x="523.5" y="1191.5" width="95.0" height="9.0" fill="#d2d2d2" stroke="#111"/>
<rect x="486.5" y="1202.5" width="37.0" height="9.04" fill="#ffffff" stroke="#111"/>
<rect x="523.5" y="1202.5" width="36.0" height="9.04" fill="#ffffff" stroke="#111"/>
<text x="386.8" y="1200.8" text-anchor="end" class="t" letter-spacing="0.5">2.99</text>
<rect x="494.5" y="1224.5" width="29.0" height="9.0" fill="#979797" stroke="#111"/>
<rect x="523.5" y="1224.5" width="29.0" height="9.0" fill="#979797" stroke="#111"/>
<rect x="459.5" y="1235.5" width="64.0" height="9.0" fill="#d2d2d2" stroke="#111"/>
<rect x="523.5" y="1235.5" width="63.0" height="9.0" fill="#d2d2d2" stroke="#111"/>
<rect x="401.5" y="1246.5" width="122.0" height="8.8" fill="#ffffff" stroke="#111"/>
<rect x="523.5" y="1246.5" width="120.0" height="8.8" fill="#ffffff" stroke="#111"/>
<text x="386.8" y="1244.6" text-anchor="end" class="t" letter-spacing="0.5">2.08</text>
<line x1="398.5" y1="991" x2="398.5" y2="1262.5" stroke="#555" stroke-width="1"/>
<line x1="398" y1="1262.5" x2="648" y2="1262.5" stroke="#333" stroke-width="1"/>
<line x1="423.5" y1="1258" x2="423.5" y2="1262.5" stroke="#111" stroke-width="1"/>
<text transform="translate(420.20,1284.0) scale(1,1.08)" text-anchor="middle" class="xt">-100</text>
<line x1="473.5" y1="1258" x2="473.5" y2="1262.5" stroke="#111" stroke-width="1"/>
<text transform="translate(471.90,1284.0) scale(1,1.08)" text-anchor="middle" class="xt">-50</text>
<line x1="523.5" y1="1258" x2="523.5" y2="1262.5" stroke="#111" stroke-width="1"/>
<text transform="translate(523.00,1284.0) scale(1,1.08)" text-anchor="middle" class="xt">0</text>
<line x1="572.5" y1="1258" x2="572.5" y2="1262.5" stroke="#111" stroke-width="1"/>
<text transform="translate(570.80,1284.0) scale(1,1.08)" text-anchor="middle" class="xt">50</text>
<line x1="622.5" y1="1258" x2="622.5" y2="1262.5" stroke="#111" stroke-width="1"/>
<text transform="translate(621.20,1284.0) scale(1,1.08)" text-anchor="middle" class="xt">100</text>
<text transform="translate(637.2,1011.7) scale(1,1.1)" text-anchor="end" class="pl">2100</text>
<text class="ttl" transform="translate(14.8,686) rotate(-90) scale(1.01,1.1)" x="0" y="0">Height (m)</text>
<text class="ttl" transform="translate(250.4,1317.1) scale(1.005,1.08)">Circular standard deviation (degrees)</text>
</svg>
</body></html>
